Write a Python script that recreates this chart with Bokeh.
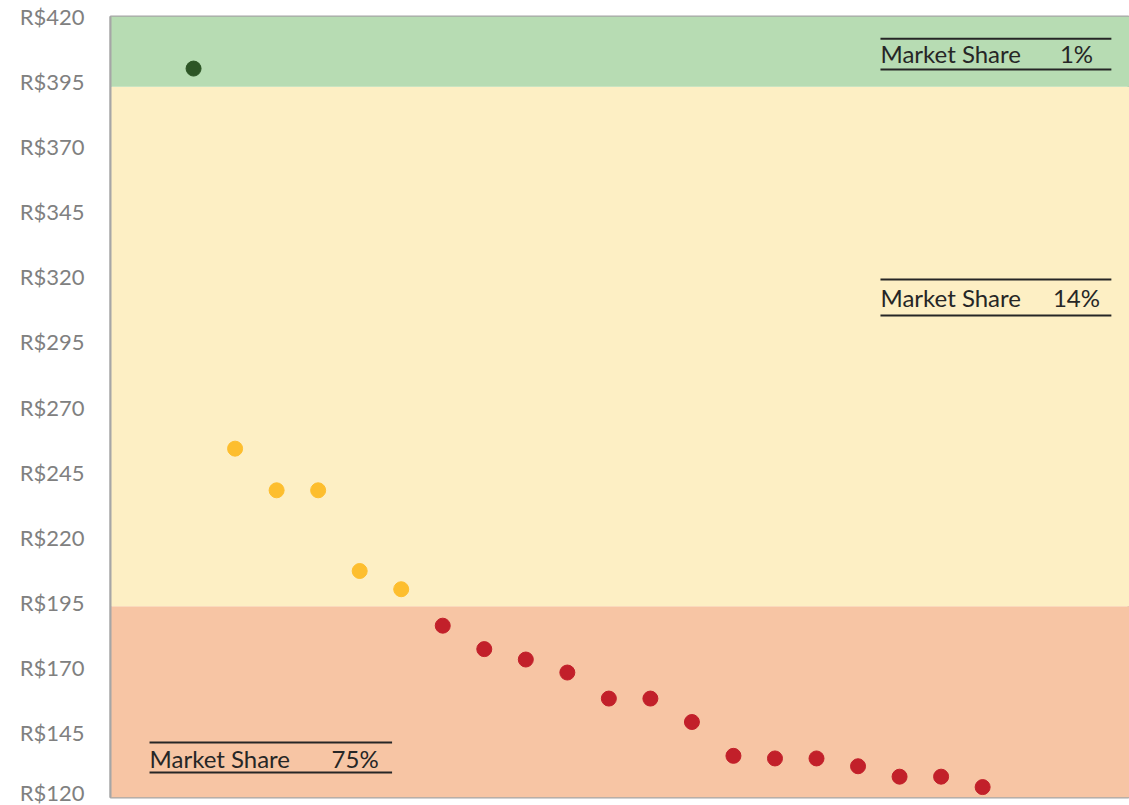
from bokeh.plotting import figure
from bokeh.models import ColumnDataSource, BoxAnnotation, FixedTicker, Range1d
from bokeh.core.properties import value
from bokeh.embed import file_html
from bokeh.resources import INLINE

# ---- data ----
positions = list(range(2, 22))
prices = [400, 254, 238, 238, 207, 200, 186, 177, 173, 168, 158, 158, 149,
          136, 135, 135, 132, 128, 128, 124]
band_limits = [120, 193.5, 393, 420]          # red / yellow / green bands
band_colors = ["#F7C5A4", "#FDEFC4", "#B7DCB3"]
point_colors = ["#C2202A", "#FDBE2E", "#2D5526"]
share_labels = ["75%", "14%", "1%"]
y_ticks = list(range(120, 421, 25))
tick_labels = {t: f"R${t}" for t in y_ticks}

def band_of(v):
    for i in range(3):
        if band_limits[i] <= v < band_limits[i + 1]:
            return i
    return 2

colors = [point_colors[band_of(v)] for v in prices]
src = ColumnDataSource(dict(x=positions, y=prices, c=colors))

W, H = 1129, 805
p = figure(width=W, height=H, output_backend="svg", toolbar_location=None,
           x_range=Range1d(0, 1019 / 41.53), y_range=Range1d(120, 420),
           min_border_left=110, min_border_top=16, min_border_bottom=8,
           min_border_right=0)

for i in range(3):
    p.add_layout(BoxAnnotation(bottom=band_limits[i], top=band_limits[i + 1],
                               fill_color=band_colors[i], fill_alpha=1.0,
                               line_alpha=0, level="underlay"))

p.scatter("x", "y", source=src, size=15, fill_color="c", line_color="c")

# Market share annotation boxes
boxes = [
    dict(x0=0.94, x1=6.78, ytop=141.1, ybot=129.6, ytext=134.8, xp=5.89),
    dict(x0=18.54, x1=24.10, ytop=319.0, ybot=305.1, ytext=312.2, xp=23.26),
    dict(x0=18.54, x1=24.10, ytop=411.5, ybot=399.6, ytext=405.6, xp=23.26),
]
for b, lab in zip(boxes, share_labels):
    p.segment(x0=[b["x0"], b["x0"]], x1=[b["x1"], b["x1"]],
              y0=[b["ytop"], b["ybot"]], y1=[b["ytop"], b["ybot"]],
              line_color="#262626", line_width=2)
    p.text(x=[b["x0"]], y=[b["ytext"]], text=["Market Share"],
           text_font=value("Lato"), text_font_size="24px",
           text_color="#262626", text_baseline="middle", text_align="left")
    p.text(x=[b["xp"]], y=[b["ytext"]], text=[lab],
           text_font=value("Lato"), text_font_size="24px",
           text_color="#262626", text_baseline="middle", text_align="center")

p.xgrid.visible = False
p.ygrid.visible = False
p.xaxis.visible = False
p.outline_line_color = "#A6A6A6"
p.outline_line_width = 2

ax = p.yaxis[0]
ax.ticker = FixedTicker(ticks=y_ticks)
ax.major_label_overrides = tick_labels
ax.major_label_text_font = "Lato"
ax.major_label_text_font_size = "22px"
ax.major_label_text_color = "#808080"
ax.axis_line_color = "#A6A6A6"
ax.axis_line_width = 2
ax.major_tick_line_color = None
ax.minor_tick_line_color = None
ax.major_tick_out = 0
ax.major_tick_in = 0
ax.major_label_standoff = 26

p.background_fill_color = "white"
p.border_fill_color = "white"

open("out.html", "w").write(file_html(p, INLINE))
